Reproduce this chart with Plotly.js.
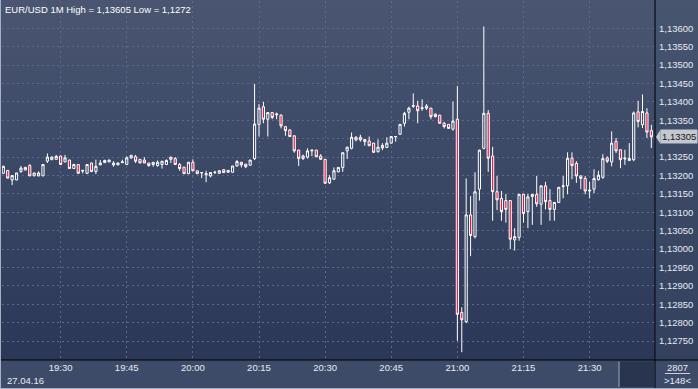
<!DOCTYPE html>
<html>
<head>
<meta charset="utf-8">
<script src="https://cdn.plot.ly/plotly-3.0.1.min.js"></script>
<style>
  html, body { margin: 0; padding: 0; background: #3d4a67; }
  #wrap { position: relative; width: 698px; height: 389px; overflow: hidden; background: #3d4b68; }
  #plotbg { position: absolute; left: 0; top: 0; width: 655px; height: 360px;
            background: linear-gradient(to bottom, #4a5671 0%, #3b4866 45%, #2b3756 100%); }
  #axisbg { position: absolute; left: 656px; top: 0; width: 42px; height: 360px;
            background: linear-gradient(to bottom, #48556f 0%, #3c4966 50%, #33415f 100%); }
  #chart { position: absolute; left: 0; top: 0; width: 698px; height: 389px; }
  #frame { position: absolute; left: 0; top: 0; width: 697px; height: 388px;
           border-left: 1px solid #a7b0c2; border-bottom: 1px solid #a7b0c2; pointer-events: none; }
</style>
</head>
<body>
<div id="wrap">
  <div id="plotbg"></div>
  <div id="axisbg"></div>
  <div id="chart"></div>
  <div id="frame"></div>
</div>
<script>
// ---- data: EUR/USD 1-minute candles, 27.04.16, 19:17 .. 21:44 ----
const startTime = '2016-04-27T19:17:00Z';

const open = [
1.13206,1.13214,1.13188,1.13188,1.13211,1.13215,1.13227,1.13199,1.13199,1.13199,
1.13239,1.13243,1.13244,1.13253,1.13237,1.13242,1.13219,1.13230,1.13212,1.13206,
1.13234,1.13211,1.13229,1.13235,1.13237,1.13234,1.13229,1.13235,1.13230,1.13248,
1.13251,1.13244,1.13242,1.13234,1.13230,1.13227,1.13230,1.13230,1.13244,1.13246,
1.13230,1.13223,1.13205,1.13236,1.13213,1.13207,1.13202,1.13199,1.13208,1.13206,
1.13216,1.13209,1.13209,1.13226,1.13236,1.13231,1.13228,1.13246,1.13339,1.13387,
1.13353,1.13371,1.13365,1.13364,1.13333,1.13324,1.13308,1.13269,1.13246,1.13250,
1.13267,1.13269,1.13253,1.13244,1.13180,1.13190,1.13210,1.13222,1.13267,1.13274,
1.13304,1.13304,1.13298,1.13294,1.13288,1.13265,1.13282,1.13276,1.13288,1.13305,
1.13312,1.13342,1.13372,1.13388,1.13389,1.13382,1.13389,1.13383,1.13367,1.13364,
1.13342,1.13339,1.13326,1.13353,1.12828,1.12803,1.13093,1.13034,1.13163,1.13274,
1.13369,1.13253,1.13156,1.13138,1.13132,1.13132,1.13025,1.13032,1.13149,1.13102,
1.13143,1.13149,1.13122,1.13172,1.13132,1.13108,1.13127,1.13170,1.13172,1.13247,
1.13233,1.13199,1.13192,1.13158,1.13163,1.13189,1.13195,1.13248,1.13237,1.13293,
1.13270,1.13245,1.13241,1.13243,1.13373,1.13338,1.13370,1.13322];

const high = [
1.13227,1.13215,1.13200,1.13207,1.13226,1.13224,1.13231,1.13207,1.13211,1.13230,
1.13260,1.13252,1.13256,1.13254,1.13256,1.13243,1.13232,1.13231,1.13215,1.13230,
1.13235,1.13243,1.13242,1.13243,1.13243,1.13239,1.13235,1.13243,1.13252,1.13255,
1.13256,1.13244,1.13250,1.13234,1.13236,1.13241,1.13239,1.13244,1.13251,1.13250,
1.13234,1.13223,1.13237,1.13244,1.13213,1.13209,1.13213,1.13208,1.13213,1.13215,
1.13217,1.13215,1.13226,1.13242,1.13237,1.13231,1.13242,1.13449,1.13394,1.13400,
1.13372,1.13372,1.13371,1.13366,1.13334,1.13325,1.13309,1.13270,1.13257,1.13274,
1.13270,1.13270,1.13258,1.13245,1.13201,1.13222,1.13223,1.13263,1.13278,1.13317,
1.13307,1.13311,1.13299,1.13306,1.13289,1.13298,1.13288,1.13304,1.13307,1.13307,
1.13340,1.13373,1.13387,1.13423,1.13403,1.13407,1.13394,1.13384,1.13368,1.13365,
1.13346,1.13340,1.13401,1.13443,1.12842,1.13192,1.13144,1.13209,1.13270,1.13605,
1.13378,1.13278,1.13199,1.13158,1.13150,1.13133,1.13057,1.13150,1.13150,1.13150,
1.13150,1.13199,1.13173,1.13183,1.13163,1.13128,1.13169,1.13199,1.13263,1.13263,
1.13239,1.13200,1.13199,1.13183,1.13217,1.13213,1.13258,1.13252,1.13320,1.13302,
1.13271,1.13270,1.13288,1.13374,1.13403,1.13420,1.13383,1.13338];

const low = [
1.13205,1.13193,1.13174,1.13187,1.13207,1.13214,1.13199,1.13199,1.13198,1.13199,
1.13234,1.13242,1.13244,1.13230,1.13236,1.13218,1.13219,1.13206,1.13206,1.13204,
1.13209,1.13204,1.13228,1.13235,1.13237,1.13224,1.13228,1.13234,1.13229,1.13245,
1.13234,1.13234,1.13234,1.13224,1.13224,1.13224,1.13219,1.13229,1.13234,1.13229,
1.13213,1.13204,1.13205,1.13212,1.13205,1.13193,1.13182,1.13195,1.13204,1.13205,
1.13207,1.13208,1.13208,1.13224,1.13222,1.13220,1.13227,1.13242,1.13306,1.13342,
1.13306,1.13353,1.13353,1.13328,1.13308,1.13305,1.13262,1.13226,1.13242,1.13246,
1.13253,1.13250,1.13243,1.13178,1.13177,1.13189,1.13209,1.13210,1.13245,1.13271,
1.13293,1.13292,1.13281,1.13280,1.13262,1.13262,1.13269,1.13275,1.13287,1.13292,
1.13311,1.13333,1.13353,1.13384,1.13342,1.13376,1.13378,1.13353,1.13358,1.13341,
1.13328,1.13327,1.13322,1.12751,1.12720,1.12799,1.12981,1.13029,1.13132,1.13271,
1.13210,1.13077,1.13106,1.13077,1.13072,1.13000,1.12996,1.13023,1.13072,1.13057,
1.13066,1.13115,1.13066,1.13108,1.13077,1.13077,1.13125,1.13138,1.13149,1.13190,
1.13180,1.13163,1.13149,1.13138,1.13152,1.13186,1.13191,1.13234,1.13225,1.13261,
1.13220,1.13229,1.13239,1.13239,1.13331,1.13329,1.13302,1.13275];

const close = [
1.13225,1.13193,1.13200,1.13207,1.13220,1.13222,1.13199,1.13207,1.13207,1.13230,
1.13250,1.13250,1.13252,1.13230,1.13248,1.13219,1.13230,1.13206,1.13214,1.13230,
1.13211,1.13225,1.13234,1.13241,1.13242,1.13229,1.13234,1.13237,1.13248,1.13255,
1.13239,1.13234,1.13234,1.13227,1.13236,1.13236,1.13239,1.13241,1.13250,1.13230,
1.13219,1.13205,1.13236,1.13213,1.13205,1.13208,1.13205,1.13208,1.13209,1.13213,
1.13208,1.13214,1.13226,1.13238,1.13229,1.13224,1.13242,1.13340,1.13383,1.13353,
1.13371,1.13358,1.13367,1.13335,1.13322,1.13306,1.13267,1.13246,1.13253,1.13267,
1.13269,1.13251,1.13244,1.13179,1.13194,1.13213,1.13222,1.13262,1.13277,1.13304,
1.13297,1.13297,1.13292,1.13281,1.13263,1.13277,1.13275,1.13288,1.13306,1.13306,
1.13339,1.13369,1.13383,1.13390,1.13376,1.13384,1.13383,1.13360,1.13360,1.13342,
1.13333,1.13328,1.13348,1.12823,1.12808,1.13093,1.13037,1.13156,1.13269,1.13369,
1.13247,1.13156,1.13134,1.13102,1.13108,1.13027,1.13034,1.13149,1.13097,1.13142,
1.13149,1.13123,1.13172,1.13129,1.13108,1.13127,1.13168,1.13172,1.13247,1.13227,
1.13199,1.13192,1.13158,1.13160,1.13192,1.13201,1.13246,1.13239,1.13288,1.13267,
1.13243,1.13247,1.13246,1.13370,1.13347,1.13374,1.13318,1.13305];

const yTicks = [1.1275,1.1280,1.1285,1.1290,1.1295,1.1300,1.1305,1.1310,1.1315,
                1.1320,1.1325,1.1330,1.1335,1.1340,1.1345,1.1350,1.1355,1.1360];

const headerText = 'EUR/USD 1M High = 1,13605 Low = 1,1272';
const dateLabel = '27.04.16';
const cornerTop = '2807';
const cornerBottom = '&gt;148&lt;';

// minute timeline of the 1M bars
const t0 = new Date(startTime).getTime();
const times = open.map((_, i) => new Date(t0 + i * 60000).toISOString().slice(0, 16).replace('T', ' '));

const lastClose = close[close.length - 1];
const lastLabel = lastClose.toFixed(5).replace('.', ',');
// the price tag covers the nearest axis label, as in the terminal
const yTickText = yTicks.map(v => Math.abs(v - lastClose) < 0.0002 ? '' : v.toFixed(5).replace('.', ','));

const txt = '#e6ebf3';
const fontFam = '"Liberation Sans", Arial, sans-serif';
const fs = 9.5;
const gridCol = '#5b6a89';

const trace = {
  type: 'candlestick',
  x: times, open: open, high: high, low: low, close: close,
  increasing: { line: { color: '#ffffff', width: 1 }, fillcolor: 'rgba(0,0,0,0)' },
  decreasing: { line: { color: '#ffffff', width: 1 }, fillcolor: '#e3173e' },
  whiskerwidth: 0,
  hoverinfo: 'skip'
};

const layout = {
  width: 698, height: 389,
  margin: { l: 2, r: 43, t: 1, b: 29, pad: 0 },
  paper_bgcolor: 'rgba(0,0,0,0)',
  plot_bgcolor: 'rgba(0,0,0,0)',
  showlegend: false,
  hovermode: false,
  separators: ', ',
  font: { family: fontFam, size: fs, color: txt },
  xaxis: {
    type: 'date',
    range: ['2016-04-27 19:16:42', '2016-04-27 21:44:50'],
    rangeslider: { visible: false },
    tick0: '2016-04-27 19:30', dtick: 15 * 60 * 1000,
    tickformat: '%H:%M',
    showgrid: true, gridcolor: gridCol, griddash: '2px,3px', gridwidth: 1,
    zeroline: false, showline: false, ticks: '',
    tickfont: { family: fontFam, size: fs, color: txt }
  },
  yaxis: {
    side: 'right',
    range: [1.126988, 1.136742],
    tickmode: 'array', tickvals: yTicks, ticktext: yTickText,
    ticklabelstandoff: 3,
    showgrid: true, gridcolor: gridCol, griddash: '2px,3px', gridwidth: 1,
    zeroline: false, showline: false, ticks: '',
    tickfont: { family: fontFam, size: fs, color: txt }
  },
  shapes: [
    { type: 'line', xref: 'paper', yref: 'paper', x0: 1, x1: 1, y0: -29/359, y1: 1.01, line: { color: '#000000', width: 1 } },
    { type: 'line', xref: 'paper', yref: 'paper', x0: -0.01, x1: 1.07, y0: 0, y1: 0, line: { color: '#000000', width: 1 } },
    { type: 'rect', xref: 'paper', yref: 'paper', x0: (619-2)/653, x1: (654.5-2)/653, y0: (360-387)/359, y1: (360-361.5)/359, fillcolor: '#29344f', line: { width: 0 } },
    { type: 'line', xref: 'paper', yref: 'paper', x0: (619-2)/653, x1: (619-2)/653, y0: (360-387)/359, y1: (360-361.5)/359, line: { color: '#7c8699', width: 1.5 } },
    { type: 'line', xref: 'paper', yref: 'paper', x0: (665-2)/653, x1: (690-2)/653, y0: (360-373.5)/359, y1: (360-373.5)/359, line: { color: '#c9d0dc', width: 1 } },
    { type: 'path', xref: 'paper', yref: 'y',
      path: 'M ' + ((656-2)/653) + ' ' + lastClose +
            ' L ' + ((660.5-2)/653) + ' ' + (lastClose + 0.0002) +
            ' L ' + ((660.5-2)/653) + ' ' + (lastClose - 0.0002) + ' Z',
      fillcolor: '#c4c8cf', line: { width: 0 } }
  ],
  annotations: [
    { text: headerText, xref: 'paper', yref: 'paper', x: (3-2)/653, y: (360-9)/359, xanchor: 'left', yanchor: 'middle', showarrow: false, font: { family: fontFam, size: fs, color: '#ffffff' } },
    { text: dateLabel, xref: 'paper', yref: 'paper', x: (5-2)/653, y: (360-380.5)/359, xanchor: 'left', yanchor: 'middle', showarrow: false, font: { family: fontFam, size: fs, color: txt } },
    { text: cornerTop, xref: 'paper', yref: 'paper', x: (677-2)/653, y: (360-367)/359, xanchor: 'center', yanchor: 'middle', showarrow: false, font: { family: fontFam, size: fs, color: txt } },
    { text: cornerBottom, xref: 'paper', yref: 'paper', x: (677-2)/653, y: (360-380.5)/359, xanchor: 'center', yanchor: 'middle', showarrow: false, font: { family: fontFam, size: fs, color: txt } },
    { text: lastLabel, xref: 'paper', yref: 'y', x: (660-2)/653, y: lastClose, xanchor: 'left', yanchor: 'middle', showarrow: false,
      bgcolor: '#c4c8cf', borderpad: 1, font: { family: fontFam, size: fs, color: '#161616' } }
  ]
};

Plotly.newPlot('chart', [trace], layout, { staticPlot: true, displayModeBar: false });
</script>
</body>
</html>
